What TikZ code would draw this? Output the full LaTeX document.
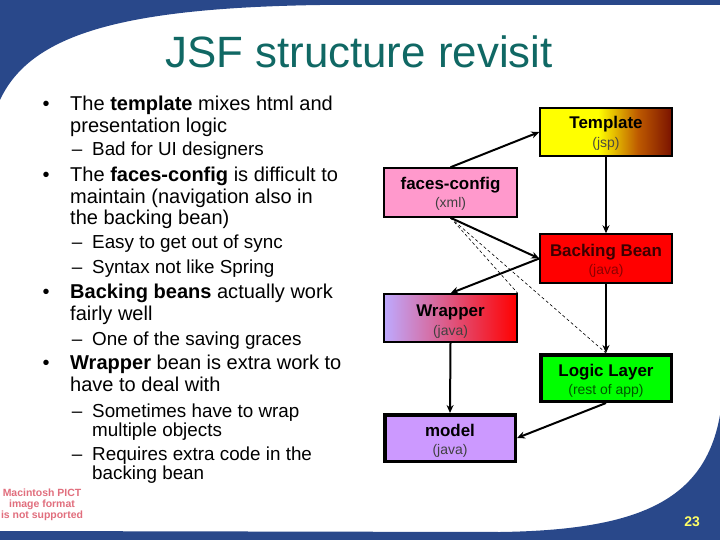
\documentclass[tikz,border=0pt]{standalone}
\usepackage{fontspec}
\setmainfont{Liberation Sans}
\usetikzlibrary{arrows.meta}
\definecolor{frameblue}{RGB}{41,72,138}
\definecolor{titleteal}{RGB}{16,104,100}
\definecolor{tpldark}{RGB}{122,18,0}
\definecolor{tplmid}{RGB}{190,90,0}
\definecolor{fcpink}{RGB}{255,153,204}
\definecolor{wrlav}{RGB}{190,170,255}
\definecolor{mdlav}{RGB}{204,153,255}
\definecolor{pictred}{RGB}{225,110,125}
\definecolor{numyellow}{RGB}{255,255,102}
\definecolor{bbtext}{RGB}{60,0,0}
\definecolor{bbsub}{RGB}{140,0,0}
\definecolor{llsub}{RGB}{0,85,0}
\pgfdeclarehorizontalshading{tplshade}{100bp}{color(0bp)=(yellow); color(25bp)=(yellow); color(47bp)=(yellow); color(62bp)=(tplmid); color(75bp)=(tpldark); color(100bp)=(tpldark)}
\pgfdeclarehorizontalshading{wrshade}{100bp}{color(0bp)=(wrlav); color(25bp)=(wrlav); color(50bp)=(wrlav!50!red); color(75bp)=(red); color(100bp)=(red)}
\tikzset{
  boxthin/.style={draw=black, line width=1.5bp, rectangle, inner sep=0pt},
  boxthick/.style={draw=black, line width=3.5bp, rectangle, inner sep=0pt},
  nodetitle/.style={font=\fontsize{17}{19}\selectfont\bfseries, anchor=base, inner sep=0pt},
  nodesub/.style={font=\fontsize{14}{16}\selectfont, anchor=base, inner sep=0pt},
  conn/.style={line width=2bp, -{Stealth[length=8bp,width=7bp]}},
  thinconn/.style={line width=0.6bp, dash pattern=on 3bp off 2.5bp},
  bodytext/.style={font=\fontsize{20.1}{22}\selectfont, anchor=base west, inner sep=0pt},
  subtext/.style={font=\fontsize{18.9}{20}\selectfont, anchor=base west, inner sep=0pt},
  bulletmark/.style={font=\fontsize{20}{22}\selectfont, anchor=base, inner sep=0pt},
  dashmark/.style={font=\fontsize{18.9}{20}\selectfont, anchor=base, inner sep=0pt},
}
\begin{document}
\begin{tikzpicture}[x=1bp,y=-1bp]
\useasboundingbox (0,0) rectangle (720,540);
% background frame
\fill[white] (0,0) rectangle (720,540);
\fill[frameblue] (0,0) -- (720,0) -- (720,5) -- (320,5) .. controls (120,8) and (30,35) .. (0,100) -- cycle;
\fill[frameblue] (0,540) -- (0,531) -- (500,532) .. controls (640,530) and (705,500) .. (720,415) -- (720,540) -- cycle;
% title
\node[font=\fontsize{44}{48}\selectfont, text=titleteal, anchor=base, inner sep=0pt] (title) at (359,68) {JSF structure revisit};
% bullets
\node[bulletmark] (b1) at (46,111) {•};
\node[bodytext] (t1a) at (70,111) {The \textbf{template} mixes html and};
\node[bodytext] (t1b) at (70,132.5) {presentation logic};
\node[dashmark] (d1) at (77,156) {–};
\node[subtext] (s1) at (92,156) {Bad for UI designers};
\node[bulletmark] (b2) at (46,181.5) {•};
\node[bodytext] (t2a) at (70,181.5) {The \textbf{faces-config} is difficult to};
\node[bodytext] (t2b) at (70,204) {maintain (navigation also in};
\node[bodytext] (t2c) at (70,225) {the backing bean)};
\node[dashmark] (d2) at (77,249) {–};
\node[subtext] (s2) at (92,249) {Easy to get out of sync};
\node[dashmark] (d3) at (77,274) {–};
\node[subtext] (s3) at (92,274) {Syntax not like Spring};
\node[bulletmark] (b3) at (46,298) {•};
\node[bodytext] (t3a) at (70,298) {\textbf{Backing beans} actually work};
\node[bodytext] (t3b) at (70,320.5) {fairly well};
\node[dashmark] (d4) at (77,345) {–};
\node[subtext] (s4) at (92,345) {One of the saving graces};
\node[bulletmark] (b4) at (46,369.5) {•};
\node[bodytext] (t4a) at (70,369.5) {\textbf{Wrapper} bean is extra work to};
\node[bodytext] (t4b) at (70,391.5) {have to deal with};
\node[dashmark] (d5) at (77,417.5) {–};
\node[subtext] (s5) at (92,417.5) {Sometimes have to wrap};
\node[subtext] (s5b) at (92,436) {multiple objects};
\node[dashmark] (d6) at (77,460.5) {–};
\node[subtext] (s6) at (92,460.5) {Requires extra code in the};
\node[subtext] (s6b) at (92,479) {backing bean};
% PICT placeholder
\node[font=\fontsize{10.5}{11}\selectfont\bfseries, text=pictred, align=center, inner sep=0pt] (pict) at (42,505) {Macintosh PICT\\image format\\is not supported};
% page number
\node[font=\fontsize{14}{16}\selectfont\bfseries, text=numyellow, inner sep=0pt] (pnum) at (692,522) {23};
% diagram boxes
\node[boxthin, shading=tplshade, minimum width=132bp, minimum height=48bp] (tpl) at (606,132) {};
\node[boxthin, fill=fcpink, minimum width=133bp, minimum height=49bp] (fc) at (450.5,192.5) {};
\node[boxthin, fill=red, minimum width=132bp, minimum height=49bp] (bb) at (606,258.5) {};
\node[boxthin, shading=wrshade, minimum width=133bp, minimum height=48bp] (wr) at (450.5,318) {};
\node[boxthick, fill=green, minimum width=130.5bp, minimum height=46.5bp] (ll) at (606,378) {};
\node[boxthick, fill=mdlav, minimum width=130.5bp, minimum height=46.5bp] (md) at (450,438) {};
% box texts
\node[nodetitle] (tplA) at (606,129) {Template};
\node[nodesub, text=black!80!yellow] (tplB) at (606,148) {(jsp)};
\node[nodetitle] (fcA) at (450.5,190) {faces-config};
\node[nodesub, text=black!75] (fcB) at (450.5,208) {(xml)};
\node[nodetitle, text=bbtext] (bbA) at (606,257) {Backing Bean};
\node[nodesub, text=bbsub] (bbB) at (606,275) {(java)};
\node[nodetitle] (wrA) at (450.5,316) {Wrapper};
\node[nodesub, text=black!75] (wrB) at (450.5,335) {(java)};
\node[nodetitle] (llA) at (606,376) {Logic Layer};
\node[nodesub, text=llsub] (llB) at (606,394) {(rest of app)};
\node[nodetitle] (mdA) at (450,436) {model};
\node[nodesub, text=black!75] (mdB) at (450,454) {(java)};
% connectors
\draw[thinconn] (fc.south) -- (wr.north east);
\draw[thinconn] (fc.south) -- (ll.north);
\draw[conn] (fc.north) -- (tpl.west);
\draw[conn] (tpl.south) -- (bb.north);
\draw[conn] (fc.south) -- (bb.west);
\draw[conn] (bb.west) -- (wr.north);
\draw[conn] (wr.south) -- (md.north);
\draw[conn] (bb.south) -- (ll.north);
\draw[conn] (ll.south) -- (md.east);
\end{tikzpicture}
\end{document}
